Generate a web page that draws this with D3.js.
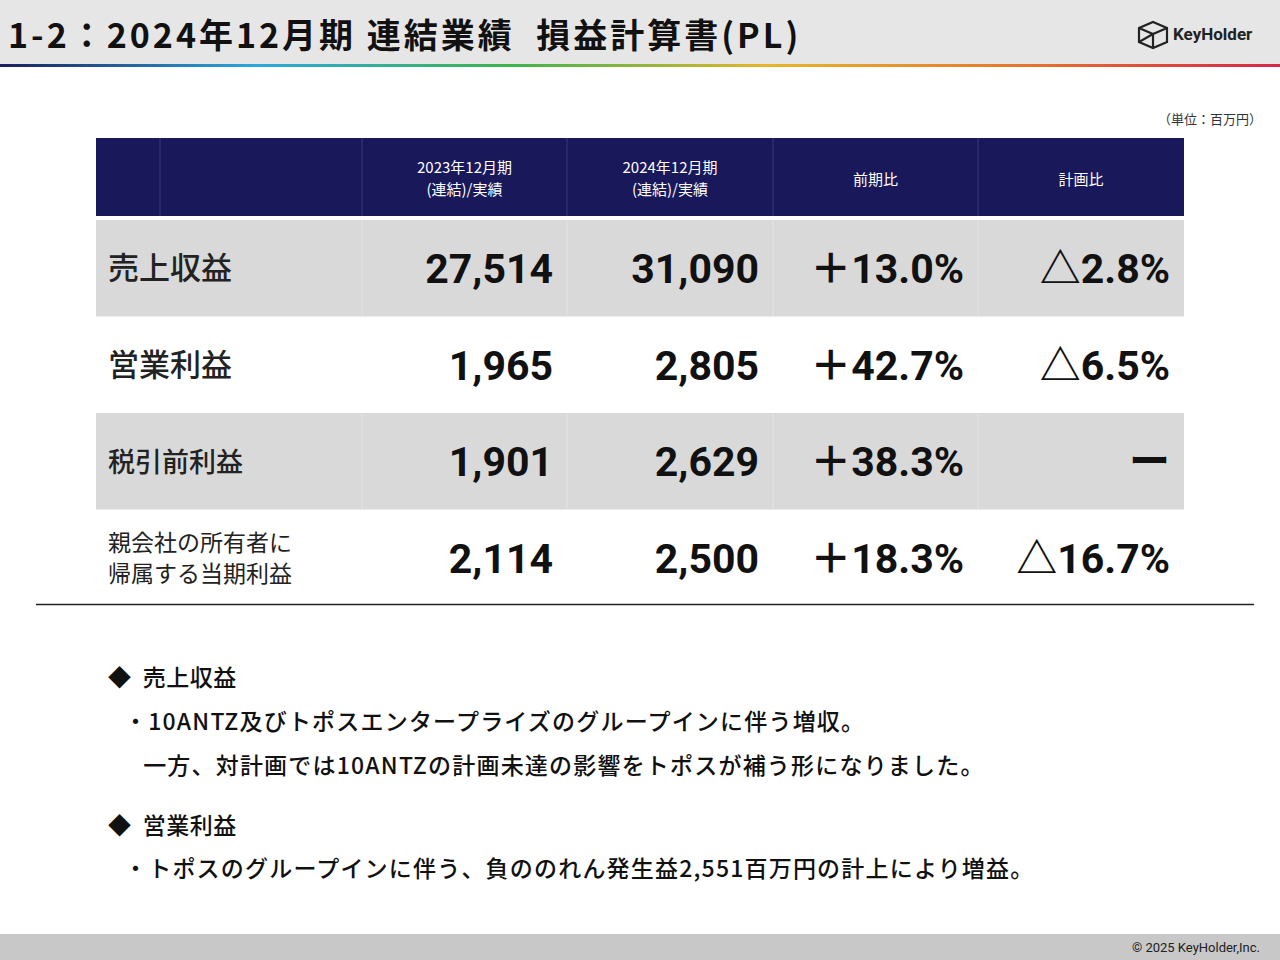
<!DOCTYPE html>
<html><head><meta charset="utf-8">
<script src="https://cdn.jsdelivr.net/npm/d3@7"></script>
<style>body{margin:0;background:#fff}svg{display:block;font-family:"Noto Sans CJK JP","Noto Sans",sans-serif}</style>
</head><body><div id="c"></div>
<script>
const title = "1-2：2024年12月期 連結業績  損益計算書(PL)";
const columns = [["",""],["2023年12月期","(連結)/実績"],["2024年12月期","(連結)/実績"],["前期比"],["計画比"]];
const rowLabels = [["売上収益"],["営業利益"],["税引前利益"],["親会社の所有者に","帰属する当期利益"]];
const fy2023 = ["27,514","1,965","1,901","2,114"];
const fy2024 = ["31,090","2,805","2,629","2,500"];
const yoy = ["＋13.0%","＋42.7%","＋38.3%","＋18.3%"];
const vsPlan = ["△2.8%","△6.5%","ー","△16.7%"];
const notes = [
 {t:"◆  売上収益",h:1},{t:"・10ANTZ及びトポスエンタープライズのグループインに伴う増収。"},{t:"   一方、対計画では10ANTZの計画未達の影響をトポスが補う形になりました。"},
 {t:"◆  営業利益",h:1},{t:"・トポスのグループインに伴う、負ののれん発生益2,551百万円の計上により増益。"}];

const W=1280,H=960;
const svg=d3.select("#c").append("svg").attr("width",W).attr("height",H);
svg.append("rect").attr("width",W).attr("height",66).attr("fill","#e6e6e6");
const g=svg.append("defs").append("linearGradient").attr("id","rb");
[["0","#1b1f5e"],["0.2","#2aa9e0"],["0.4","#3cb54a"],["0.6","#e8b52a"],["0.8","#e8742a"],["1","#d6254a"]].forEach(([o,c])=>g.append("stop").attr("offset",o).attr("stop-color",c));
svg.append("rect").attr("y",64).attr("width",W).attr("height",3).attr("fill","url(#rb)");
svg.append("text").attr("x",8).attr("y",48).attr("font-size",34).attr("font-weight",700).attr("letter-spacing",3).attr("fill","#111").style("white-space","pre").text(title);
const lg=svg.append("g").attr("transform","translate(1139,22)");
lg.append("path").attr("d","M0,6 L14,0 L28,6 L28,20 L14,26 L0,20 Z M0,6 L14,12 L28,6 M14,12 L14,26 M0,20 L14,12").attr("fill","none").attr("stroke","#222").attr("stroke-width",2.2);
svg.append("text").attr("x",1173).attr("y",40).attr("font-size",17).attr("font-weight",700).style("font-family","Roboto").attr("fill","#222").text("KeyHolder");
svg.append("text").attr("x",1262).attr("y",124).attr("text-anchor","end").attr("font-size",13).attr("fill","#333").text("（単位：百万円）");

const xEdges=[96,160,362,567,773,978,1184];
const headY=138, headH=78;
const y=d3.scaleBand().domain(d3.range(rowLabels.length)).range([220,606]).padding(0);
svg.append("rect").attr("x",96).attr("y",headY).attr("width",1088).attr("height",headH).attr("fill","#18185a");
xEdges.slice(1,-1).forEach(x=>svg.append("line").attr("x1",x).attr("x2",x).attr("y1",headY).attr("y2",headY+headH).attr("stroke","#3a3a78"));
columns.forEach((c,i)=>{ if(!c[0])return; const cx=(xEdges[i+1]+xEdges[i+2])/2;
  c.forEach((s,k)=>svg.append("text").attr("x",cx).attr("y",c.length>1?headY+35+k*22:headY+47).attr("text-anchor","middle").attr("font-size",15).attr("fill","#fff").text(s));});
rowLabels.forEach((lab,i)=>{
  const y0=y(i),h=y.bandwidth();
  if(i%2===0){svg.append("rect").attr("x",96).attr("y",y0).attr("width",1088).attr("height",h).attr("fill","#d9d9d9");
    xEdges.slice(2,-1).forEach(x=>svg.append("line").attr("x1",x).attr("x2",x).attr("y1",y0).attr("y2",y0+h).attr("stroke","#e4e4e4"));}
  const cy=y0+h/2;
  if(lab.length===1) svg.append("text").attr("x",108).attr("y",cy+11).attr("font-size",i<2?31:27).attr("font-weight",500).attr("fill","#222").text(lab[0]);
  else lab.forEach((s,k)=>svg.append("text").attr("x",108).attr("y",cy-7+k*31).attr("font-size",23).attr("fill","#222").text(s));
  [fy2023[i],fy2024[i],yoy[i],vsPlan[i]].forEach((v,j)=>svg.append("text").attr("x",xEdges[j+3]-14).attr("y",cy+15).attr("text-anchor","end").attr("font-size",41).attr("font-weight",700).style("font-family","Roboto, 'Noto Sans CJK JP'").attr("fill","#111").text(v));
});
svg.append("line").attr("x1",36).attr("x2",1254).attr("y1",604.5).attr("y2",604.5).attr("stroke","#222").attr("stroke-width",1.5);
const ny=[686,730,774,834,877];
notes.forEach((n,i)=>svg.append("text").attr("x",n.h?108:124).attr("y",ny[i]).attr("font-size",23).attr("font-weight",500).attr("letter-spacing",n.h?0.5:1.2).attr("fill","#111").style("white-space","pre").text(n.t));
svg.append("rect").attr("y",934).attr("width",W).attr("height",26).attr("fill","#c8c8c8");
svg.append("text").attr("x",1260).attr("y",952).attr("text-anchor","end").attr("font-size",13).style("font-family","Roboto").attr("fill","#222").text("© 2025 KeyHolder,Inc.");
</script></body></html>
